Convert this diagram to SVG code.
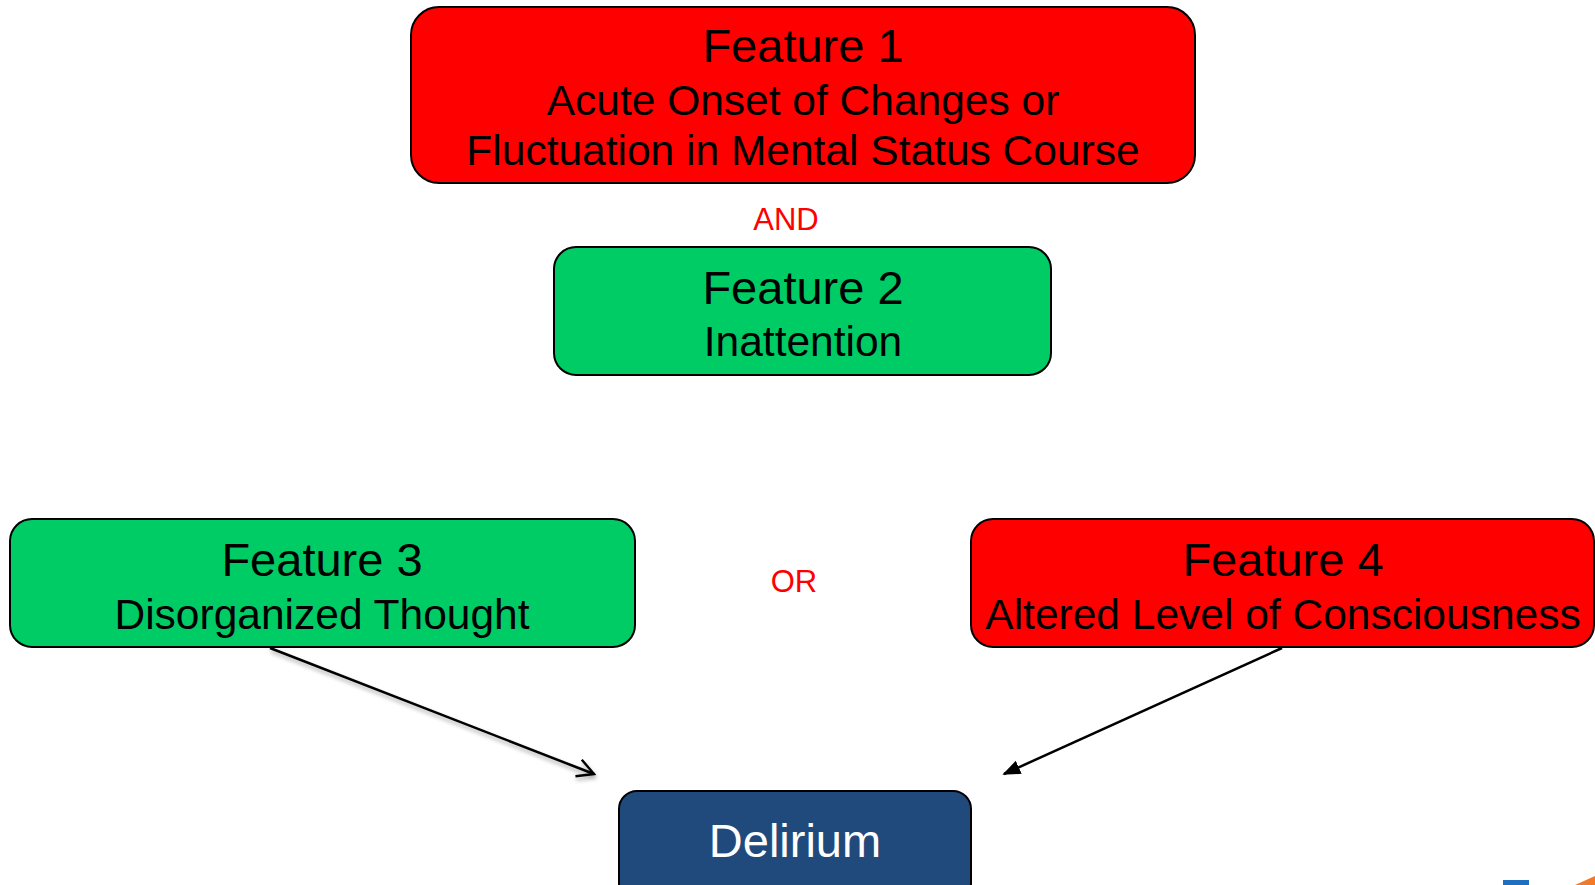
<svg xmlns="http://www.w3.org/2000/svg" width="1595" height="885" viewBox="0 0 1595 885">
  <style>
    .box { stroke: #000; stroke-width: 2; }
    .red { fill: #ff0000; }
    .green { fill: #00cc66; }
    .navy { fill: #214a7c; }
    text { font-family: "Liberation Sans", Arial, sans-serif; text-anchor: middle; }
    .title { font-size: 47px; fill: #000; }
    .sub { font-size: 42.5px; fill: #000; }
    .op { font-size: 31px; fill: #ff0000; }
    .conn { fill: none; stroke: #000; stroke-width: 2.5; }
  </style>
  <defs>
    <marker id="open" viewBox="0 0 20 20" refX="18" refY="10" markerWidth="22" markerHeight="22" markerUnits="userSpaceOnUse" orient="auto">
      <path d="M3,2 L18,10 L3,18" fill="none" stroke="#000" stroke-width="2.2"/>
    </marker>
    <marker id="solid" viewBox="0 0 20 20" refX="18" refY="10" markerWidth="18" markerHeight="18" markerUnits="userSpaceOnUse" orient="auto">
      <path d="M0,2 L20,10 L0,18 Z" fill="#000"/>
    </marker>
    <filter id="soft" x="-10%" y="-10%" width="120%" height="130%">
      <feGaussianBlur in="SourceAlpha" stdDeviation="2"/>
      <feOffset dx="1" dy="3" result="b"/>
      <feComponentTransfer><feFuncA type="linear" slope="0.35"/></feComponentTransfer>
      <feMerge><feMergeNode/><feMergeNode in="SourceGraphic"/></feMerge>
    </filter>
  </defs>

  <rect width="1595" height="885" fill="#fff"/>

  <g id="feature1">
    <rect class="box red" x="411" y="7" width="784" height="176" rx="28"/>
    <text class="title" x="803" y="62">Feature 1</text>
    <text class="sub" x="803" y="115">Acute Onset of Changes or</text>
    <text class="sub" x="803" y="165">Fluctuation in Mental Status Course</text>
  </g>

  <text id="and" class="op" x="786" y="230">AND</text>

  <g id="feature2">
    <rect class="box green" x="554" y="247" width="497" height="128" rx="22"/>
    <text class="title" x="803" y="304">Feature 2</text>
    <text class="sub" x="803" y="356">Inattention</text>
  </g>

  <g id="feature3">
    <rect class="box green" x="10" y="519" width="625" height="128" rx="22"/>
    <text class="title" x="322" y="576">Feature 3</text>
    <text class="sub" x="322" y="629">Disorganized Thought</text>
  </g>

  <text id="or" class="op" x="794" y="592">OR</text>

  <g id="feature4">
    <rect class="box red" x="971" y="519" width="623" height="128" rx="22"/>
    <text class="title" x="1283" y="576">Feature 4</text>
    <text class="sub" x="1283" y="629">Altered Level of Consciousness</text>
  </g>

  <g id="delirium">
    <rect class="box navy" x="619" y="791" width="352" height="110" rx="18"/>
    <text class="title" x="795" y="857" style="fill:#fff">Delirium</text>
  </g>

  <g id="connectors">
    <path class="conn" d="M270,648 L594,774" marker-end="url(#open)" filter="url(#soft)"/>
    <path class="conn" d="M1282,648 L1004,774" marker-end="url(#solid)"/>
  </g>

  <!-- corner logo fragment -->
  <g id="logo">
    <rect x="1503" y="880" width="26" height="5" fill="#1f6fc0"/>
    <path d="M1575,885 L1595,876 L1595,885 Z" fill="#f07a28"/>
  </g>
</svg>
